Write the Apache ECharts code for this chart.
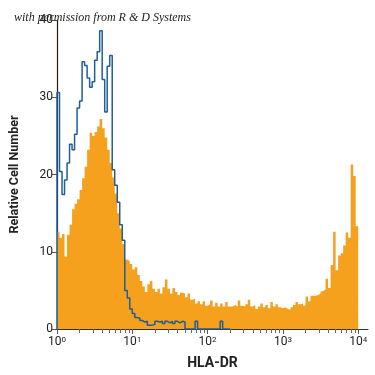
<!DOCTYPE html>
<html>
<head>
<meta charset="utf-8">
<script src="https://cdn.jsdelivr.net/npm/echarts@6/dist/echarts.min.js"></script>
<style>
  html, body { margin: 0; padding: 0; background: #fff; }
  #main { width: 375px; height: 375px; }
</style>
</head>
<body>
<div id="main"></div>
<script>
'use strict';
// histogram bins: 30 per decade, starting at 10^0
const BINS_PER_DECADE = 30;

// HLA-DR stained (filled orange)
const orangeCounts = [
  12.6, 11.8, 12.3, 9.4, 12.2, 13.5, 15.5, 16.2, 16.8, 18.0,
  19.5, 21.0, 23.2, 25.4, 25.0, 25.5, 26.2, 27.2, 26.0, 24.8,
  23.2, 21.5, 19.6, 17.5, 15.0, 13.0, 11.0, 9.0, 8.8, 8.4,
  7.7, 8.0, 7.0, 6.2, 5.5, 4.8, 5.8, 6.2, 5.2, 4.8,
  5.2, 4.6, 5.4, 6.4, 5.2, 4.6, 5.3, 4.8, 4.4, 4.7,
  4.6, 4.1, 4.6, 3.8, 3.9, 3.3, 3.6, 3.2, 3.6, 3.0,
  3.2, 3.7, 2.9, 3.4, 2.9, 3.3, 2.9, 3.5, 2.9, 2.9,
  3.1, 2.9, 3.7, 3.0, 2.9, 3.2, 3.8, 2.9, 3.1, 2.6,
  2.9, 3.3, 2.8, 3.1, 2.7, 3.5, 2.9, 3.2, 2.8, 2.7,
  2.8, 2.6, 2.5, 2.8, 3.1, 3.5, 3.2, 3.3, 3.0, 4.2,
  3.6, 4.3, 4.3, 4.4, 4.6, 4.9, 5.1, 6.5, 5.3, 8.3,
  12.6, 7.6, 9.5, 9.8, 10.8, 12.5, 11.8, 21.3, 19.8, 13.3
];

// isotype control (blue outline)
const blueCounts = [
  30.6, 20.4, 17.4, 19.3, 21.5, 23.9, 23.2, 25.2, 28.6, 29.5,
  34.6, 34.1, 32.5, 31.3, 32.0, 34.8, 35.9, 38.6, 32.3, 28.1,
  34.0, 35.4, 20.6, 18.6, 16.4, 13.5, 11.5, 5.0, 4.0, 2.6,
  2.0, 1.5, 1.4, 1.1, 0.9, 1.0, 0.5, 0.5, 0.6, 1.0,
  0.9, 1.0, 0.7, 1.0, 0.8, 1.0, 0.7, 1.0, 0.8, 1.0,
  0.9, 0, 0, 0, 0, 1.0, 0, 0, 0, 0,
  0, 0, 0, 0, 0, 1.0, 0, 0, 0
];

const majorTicks = [1, 10, 100, 1000, 10000];
const minorTicks = [2,3,4,5,6,7,8,9, 20,30,40,50,60,70,80,90,
  200,300,400,500,600,700,800,900, 2000,3000,4000,5000,6000,7000,8000,9000];

const FONT = 'Roboto, "DejaVu Sans", sans-serif';

// bin left edges -> step points
function toSteps(counts, startAtZero) {
  let pts = [];
  if (startAtZero) pts.push([1, 0]);
  counts.forEach((c, i) => {
    pts.push([Math.pow(10, i / BINS_PER_DECADE), c]);
  });
  pts.push([Math.pow(10, counts.length / BINS_PER_DECADE), counts[counts.length - 1]]);
  return pts;
}

let chart = echarts.init(document.getElementById('main'));
let option = {
  animation: false,
  title: {
    text: 'with permission from R & D Systems',
    left: 9,
    top: 7,
    textStyle: {
      fontFamily: '"Liberation Serif", "DejaVu Serif", serif',
      fontStyle: 'italic',
      fontWeight: 'normal',
      fontSize: 12,
      color: '#222'
    }
  },
  grid: { left: 56, right: 7, top: 20, bottom: 45 },
  xAxis: [
    {
      type: 'log',
      logBase: 10,
      min: 1,
      max: Math.pow(10, 4.13),
      name: 'HLA-DR',
      nameLocation: 'middle',
      nameGap: 27,
      nameTextStyle: { fontFamily: FONT, fontWeight: 'bold', fontSize: 14, color: '#222' },
      axisLine: { lineStyle: { color: '#333', width: 1 } },
      axisTick: { show: true, length: 5, customValues: majorTicks, lineStyle: { color: '#555' } },
      axisLabel: {
        customValues: majorTicks,
        margin: 7,
        fontFamily: FONT,
        fontSize: 12,
        color: '#222',
        formatter: v => '10{s|' + Math.round(Math.log10(v)) + '}',
        rich: { s: { fontFamily: FONT, fontSize: 8, verticalAlign: 'top', color: '#222' } }
      },
      splitLine: { show: false }
    },
    {
      type: 'log',
      logBase: 10,
      min: 1,
      max: Math.pow(10, 4.13),
      position: 'bottom',
      axisLine: { show: false },
      axisTick: { show: true, length: 4, customValues: minorTicks, lineStyle: { color: '#666' } },
      axisLabel: { show: false },
      splitLine: { show: false }
    }
  ],
  yAxis: {
    type: 'value',
    min: 0,
    max: 40,
    interval: 10,
    name: 'Relative Cell Number',
    nameLocation: 'middle',
    nameGap: 36,
    nameTextStyle: { fontFamily: FONT, fontWeight: 'bold', fontSize: 12.5, color: '#222' },
    axisLine: { show: true, lineStyle: { color: '#2a1a0a', width: 1.2 } },
    axisTick: { show: true, length: 5, lineStyle: { color: '#555' } },
    axisLabel: { margin: 4, fontFamily: FONT, fontSize: 12, color: '#222' },
    splitLine: { show: false }
  },
  series: [
    {
      name: 'HLA-DR',
      type: 'line',
      step: 'end',
      xAxisIndex: 0,
      showSymbol: false,
      data: toSteps(orangeCounts, false),
      lineStyle: { width: 0, color: '#f6a11d' },
      areaStyle: { color: '#f6a11d', opacity: 1 },
      z: 2
    },
    {
      name: 'Isotype',
      type: 'line',
      step: 'end',
      xAxisIndex: 0,
      showSymbol: false,
      data: toSteps(blueCounts, true),
      lineStyle: { width: 1.5, color: '#1d5f96' },
      z: 3
    }
  ]
};
chart.setOption(option);
</script>
</body>
</html>
